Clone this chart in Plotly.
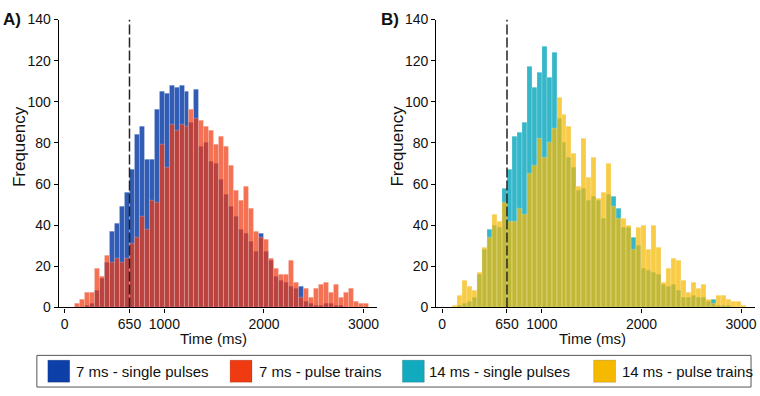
import plotly.graph_objects as go

# ---------------- data ----------------
bin_width = 50
bin_starts = list(range(0, 3050, 50))  # 61 bins, 0..3000 ms

blue_7ms_single = [0, 0, 0, 0, 1, 2, 8, 14, 22, 37, 41, 49, 56, 67, 84, 88, 72, 72, 96, 105,
                   104, 108, 107, 108, 105, 90, 106, 78, 80, 71, 70, 62, 55, 49, 44, 38, 36, 32, 27, 36,
                   27, 23, 15, 13, 12, 10, 9, 10, 3, 2, 1, 1, 2, 2, 1, 1, 0, 0, 0, 0, 0]
red_7ms_trains = [0, 0, 2, 4, 7, 7, 19, 15, 25, 22, 24, 22, 24, 31, 34, 44, 38, 52, 51, 79,
                  68, 89, 86, 89, 88, 96, 92, 91, 88, 86, 79, 83, 78, 69, 57, 52, 59, 48, 37, 34,
                  33, 24, 19, 16, 16, 23, 12, 5, 9, 5, 9, 11, 12, 7, 11, 5, 7, 9, 3, 2, 2]
cyan_14ms_single = [0, 0, 0, 1, 2, 3, 5, 16, 28, 38, 40, 39, 58, 67, 83, 85, 90, 117, 107, 114,
                    127, 112, 124, 92, 80, 73, 68, 57, 58, 52, 54, 52, 43, 55, 54, 48, 39, 39, 34, 30,
                    19, 18, 17, 16, 11, 10, 11, 8, 5, 5, 6, 5, 5, 3, 4, 1, 1, 1, 0, 0, 0]
gold_14ms_trains = [0, 0, 1, 6, 13, 10, 8, 17, 29, 34, 45, 42, 51, 42, 42, 48, 45, 65, 69, 82,
                    73, 80, 87, 102, 94, 88, 75, 59, 82, 63, 73, 53, 56, 70, 49, 43, 43, 40, 28, 39,
                    40, 28, 40, 29, 12, 19, 24, 23, 13, 7, 12, 9, 11, 4, 2, 6, 6, 4, 3, 3, 1]

series_names = ["7 ms - single pulses", "7 ms - pulse trains",
                "14 ms - single pulses", "14 ms - pulse trains"]
series_colors = ["rgb(13,63,168)", "rgb(240,58,18)", "rgb(18,170,191)", "rgb(245,185,0)"]
series_fills = ["rgba(13,63,168,0.85)", "rgba(240,58,18,0.72)",
                "rgba(18,170,191,0.85)", "rgba(245,185,0,0.72)"]

x_tick_vals = [0, 650, 1000, 2000, 3000]
y_tick_vals = [0, 20, 40, 60, 80, 100, 120, 140]
threshold_ms = 650
y_max = 140
panel_labels = ["A)", "B)"]
x_title = "Time (ms)"
y_title = "Frequency"

centers = [s + bin_width / 2 for s in bin_starts]

W, H = 760, 396
FONT = "Liberation Sans, Arial, sans-serif"

fig = go.Figure()
panel_series = [(blue_7ms_single, red_7ms_trains, "x", "y", 0),
                (cyan_14ms_single, gold_14ms_trains, "x2", "y2", 2)]
for under, over, xa, ya, ci in panel_series:
    for vals, k in ((under, ci), (over, ci + 1)):
        fig.add_trace(go.Bar(
            x=centers, y=vals, width=bin_width, name=series_names[k],
            marker=dict(color=series_fills[k], line=dict(color="rgba(255,255,255,0.35)", width=0.6)),
            xaxis=xa, yaxis=ya, showlegend=False, hoverinfo="skip"))

def px(x):
    return x / W

def py(y):
    return 1 - y / H

ydom = [py(312), py(12)]
axis_common = dict(showline=True, linecolor="black", linewidth=1.3, ticks="outside",
                   ticklen=4, tickwidth=1, tickcolor="black", showgrid=False, zeroline=False,
                   tickfont=dict(family=FONT, size=14, color="#111"))

fig.update_layout(
    width=W, height=H, margin=dict(l=0, r=0, t=0, b=0),
    paper_bgcolor="white", plot_bgcolor="white",
    barmode="overlay", bargap=0,
    font=dict(family=FONT, size=14, color="#111"),
    xaxis=dict(domain=[px(59), px(378)], range=[-60, 3130], tickvals=x_tick_vals,
               anchor="y", **axis_common),
    yaxis=dict(domain=ydom, range=[0, y_max], tickvals=y_tick_vals, anchor="x", **axis_common),
    xaxis2=dict(domain=[px(438), px(758)], range=[-60, 3140], tickvals=x_tick_vals,
                anchor="y2", **axis_common),
    yaxis2=dict(domain=ydom, range=[0, y_max], tickvals=y_tick_vals, anchor="x2", **axis_common),
)

# threshold dashed lines
for xa, ya in (("x", "y"), ("x2", "y2")):
    fig.add_shape(type="line", xref=xa, yref=ya, x0=threshold_ms, x1=threshold_ms, y0=0, y1=y_max,
                  line=dict(color="#222", width=1.5, dash="10px,3px"))

ann = []
# panel labels
for lab, xp in zip(panel_labels, (1, 381)):
    ann.append(dict(text=f"<b>{lab}</b>", x=px(xp), y=py(12), xref="paper", yref="paper",
                    xanchor="left", yanchor="middle", showarrow=False,
                    font=dict(family=FONT, size=17, color="#111")))
# axis titles
for xp in (19, 399):
    ann.append(dict(text=y_title, x=px(xp), y=py(144), xref="paper", yref="paper",
                    textangle=-90, xanchor="center", yanchor="middle", showarrow=False,
                    font=dict(family=FONT, size=17, color="#111")))
for xp in (214, 595):
    ann.append(dict(text=x_title, x=px(xp), y=py(344), xref="paper", yref="paper",
                    xanchor="center", yanchor="middle", showarrow=False,
                    font=dict(family=FONT, size=15, color="#111")))

# legend (manual, boxed)
fig.add_shape(type="rect", xref="paper", yref="paper", x0=px(37), x1=px(754), y0=py(395), y1=py(362),
              line=dict(color="#555", width=1), fillcolor="white")
sw_x = [48, 231, 404, 596]
txt_x = [74, 258, 429, 622]
for k in range(4):
    fig.add_shape(type="rect", xref="paper", yref="paper", x0=px(sw_x[k]), x1=px(sw_x[k] + 22),
                  y0=py(390), y1=py(367), line=dict(color="rgba(0,0,0,0.3)", width=0.5),
                  fillcolor=series_colors[k])
    ann.append(dict(text=series_names[k], x=px(txt_x[k]), y=py(378.5), xref="paper", yref="paper",
                    xanchor="left", yanchor="middle", showarrow=False,
                    font=dict(family=FONT, size=15, color="#111")))

fig.update_layout(annotations=ann)
fig.write_html("out.html")
